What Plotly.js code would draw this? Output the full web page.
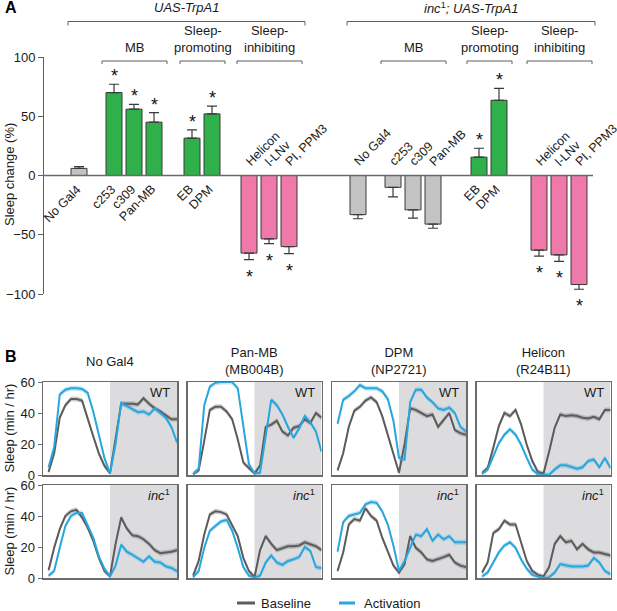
<!DOCTYPE html>
<html><head><meta charset="utf-8">
<script src="https://cdn.plot.ly/plotly-3.0.1.min.js"></script>
<style>html,body{margin:0;padding:0;background:#fff;}#chart{width:617px;height:611px;}</style>
</head><body><div id="chart"></div>
<script>
// ===================== DATA =====================
// Panel A: sleep change (%) on TrpA1 activation
const setTitles = ['<i>UAS-TrpA1</i>', '<i>inc</i><sup>1</sup><i>; UAS-TrpA1</i>'];
const barLabels = ['No Gal4', 'c253', 'c309', 'Pan-MB', 'EB', 'DPM', 'Helicon', 'l-LNv', 'PI, PPM3'];
const subgroupNames = ['MB', 'Sleep-<br>promoting', 'Sleep-<br>inhibiting'];
const subgroupOf = [-1, 0, 0, 0, 1, 1, 2, 2, 2];
const changeWT = [6, 70, 56, 45, 31.5, 52, -65.5, -53.5, -60];
const semWT = [1.5, 7, 4, 8, 7, 6.5, 5.5, 4, 6];
const sigWT = [false, true, true, true, true, true, true, true, true];
const changeInc = [-33, -10, -29, -41, 15.5, 63.5, -63, -67, -92];
const semInc = [3.5, 8, 7, 3.5, 7.5, 10, 5, 5.5, 4];
const sigInc = [false, false, false, false, true, true, true, true, true];

// Panel B: sleep profiles (min / hr), hourly
const hours = [1, 2, 3, 4, 5, 6, 7, 8, 9, 10, 11, 12, 13, 14, 15, 16, 17, 18, 19, 20, 21, 22, 23, 24];
const colTitles = ['No Gal4', 'Pan-MB<br>(MB004B)', 'DPM<br>(NP2721)', 'Helicon<br>(R24B11)'];
const rowTags = ['WT', '<i>inc</i><sup>1</sup>'];
const baseWT_noGal4 = [2, 14, 37, 45, 49, 49, 48, 36, 25, 14, 6, 1, 25, 46, 46, 46, 45.5, 49.5, 46, 43, 41, 38.5, 36, 36];
const actWT_noGal4 = [5, 18, 52, 55, 56, 56, 55.5, 53, 41, 26, 11, 1, 20, 46.5, 44.5, 42, 40.5, 41, 39, 43, 40, 37, 31, 21];
const baseWT_panMB = [0.5, 3, 22, 42, 44, 44, 41, 36, 23, 8, 4.5, 1, 6, 31, 32.5, 35, 28, 25.5, 30.5, 31.5, 36, 33.5, 40, 37];
const actWT_panMB = [0.5, 4, 45, 57, 59.5, 60, 60, 60, 56, 33, 7, 1, 1.5, 25, 48.5, 45, 39, 31, 24, 30, 38, 34, 28, 15];
const baseWT_DPM = [3, 14, 31, 41.5, 44, 48, 50, 47, 38, 26, 14, 1.5, 20, 43, 42, 40, 38, 39, 31, 35.5, 40, 29, 27, 26];
const actWT_DPM = [33, 48.5, 51, 54, 58, 56, 56, 56, 54, 49, 35, 11, 10, 47, 55, 55, 50, 47, 43, 42, 43.5, 40, 31, 28];
const baseWT_helicon = [1.3, 4.5, 17.5, 31.5, 40, 38, 42, 32.5, 19.5, 9, 2, 1, 15, 30.5, 39, 38, 38.5, 38, 37, 36.5, 37.5, 36, 42, 42];
const actWT_helicon = [0.6, 3.5, 12, 20.5, 26, 29.5, 26, 19.5, 11, 3.5, 0.3, 0, 0, 3.5, 6.3, 6.3, 5, 4, 5, 9, 10, 5, 11, 4.5];
const baseInc_noGal4 = [5, 19.5, 31.5, 40, 43, 44, 39, 32.5, 24, 13, 4.5, 1, 22, 39, 32, 27.5, 27, 25, 22, 18, 16, 16.5, 17, 18];
const actInc_noGal4 = [1.5, 4.5, 19.5, 33.5, 40, 42, 42, 34.5, 26, 14, 6, 1, 8, 21.5, 17, 15, 13, 10.5, 14, 10.5, 10, 7.5, 6.5, 4.5];
const baseInc_panMB = [1.5, 11, 28, 41, 43, 42.5, 41, 33.5, 27, 13, 4.5, 0.5, 18, 27, 22, 18, 19.5, 20.5, 20.5, 21, 23, 22, 20.5, 18];
const actInc_panMB = [0.4, 4.5, 19.5, 30.5, 33.5, 36.5, 37.5, 30.5, 19.5, 7, 1.5, 0.4, 1.5, 10, 14.5, 10, 8.5, 11, 12, 13.5, 20, 17.5, 7, 6.5];
const baseInc_DPM = [4.5, 16.5, 34.5, 38, 37, 45, 40, 37, 26, 16.5, 8, 3.5, 9, 27, 19.5, 16.5, 12, 11, 12, 13.5, 15, 10, 8, 7];
const actInc_DPM = [17, 36, 40, 41, 42, 47.5, 49, 48.5, 43, 34.5, 21, 4.5, 11, 19.5, 28, 27, 31.5, 24, 28, 25, 27, 23, 23, 23];
const baseInc_helicon = [3.5, 10, 29, 31.5, 37, 34.5, 34.5, 23, 11, 4.5, 2, 1, 7, 22, 27, 23, 24, 18.5, 22, 18.5, 16.5, 16.5, 15.5, 14.5];
const actInc_helicon = [1, 3.5, 10, 16.5, 21, 23, 19.5, 12, 6, 2, 1, 0.2, 0.4, 3.5, 9, 8, 7.5, 7.5, 7.5, 8, 13, 10, 4.5, 2.5];
const semBase = 1.6, semAct = 1.6;
const legendNames = ['Baseline', 'Activation'];

// ===================== LAYOUT / STYLE =====================
const W = 617, H = 611;
const px = v => v / W, py = v => 1 - v / H;
const FONT = 'Liberation Sans, Arial, Helvetica, sans-serif';
const TXT = '#1a1a1a';
const C_GREEN = '#2fb04b', C_PINK = '#ef79a9', C_GRAY = '#c3c3c3', C_EDGE = '#3a3a3a';
const C_AX = '#5e5e5e';
const C_BASE = '#5c5c5c', C_ACT = '#28a6de';
const BAND_BASE = 'rgba(92,92,92,0.30)', BAND_ACT = 'rgba(40,166,222,0.30)';

const SLOT = 20, BAR_W = 16;
const startPx = [79, 358];
const subGapPx = [[35, 38, 37], [35, 46, 40]];
function barCenters(set) {
  const out = []; let x = startPx[set]; let prev = null;
  subgroupOf.forEach((g, i) => {
    if (i > 0) x += (g !== prev) ? subGapPx[set][g] : SLOT;
    out.push(x); prev = g;
  });
  return out;
}

const traces = [], shapes = [], annotations = [];
const sets = [
  {v: changeWT, e: semWT, s: sigWT},
  {v: changeInc, e: semInc, s: sigInc}
];

sets.forEach((st, si) => {
  const xc = barCenters(si);
  const colors = st.v.map((v, i) => !st.s[i] ? C_GRAY : (v > 0 ? C_GREEN : C_PINK));
  traces.push({
    type: 'bar', x: xc, y: st.v, width: BAR_W, xaxis: 'x', yaxis: 'y',
    marker: {color: colors, line: {color: C_EDGE, width: 1}},
    error_y: {type: 'data', symmetric: false,
      array: st.v.map((v, i) => v > 0 ? st.e[i] : 0),
      arrayminus: st.v.map((v, i) => v < 0 ? st.e[i] : 0),
      color: C_EDGE, thickness: 1.2, width: 5},
    hoverinfo: 'skip', showlegend: false
  });
  st.v.forEach((v, i) => {
    if (v > 0) {
      annotations.push({x: xc[i], y: 0, xref: 'x', yref: 'y', text: barLabels[i], showarrow: false,
        textangle: -45, xanchor: 'right', yanchor: 'top', xshift: 7, yshift: -4,
        font: {family: FONT, size: 12.5, color: TXT}});
    } else {
      annotations.push({x: xc[i], y: 0, xref: 'x', yref: 'y', text: barLabels[i], showarrow: false,
        textangle: -45, xanchor: 'left', yanchor: 'bottom', xshift: -9, yshift: 4,
        font: {family: FONT, size: 12.5, color: TXT}});
    }
    if (st.s[i]) {
      const pos = v > 0;
      annotations.push({x: xc[i], y: v + (pos ? st.e[i] : -st.e[i]), xref: 'x', yref: 'y', text: '*',
        showarrow: false, xanchor: 'center', yanchor: pos ? 'bottom' : 'top', yshift: pos ? -4 : -5,
        font: {family: FONT, size: 18, color: '#111'}});
    }
  });
  const L = xc[0] - BAR_W / 2 - 3, R = xc[xc.length - 1] + BAR_W / 2 + 8;
  const yb = 21.5, tick = 4;
  shapes.push({type: 'path', xref: 'x', yref: 'paper',
    path: `M${L},${py(yb + tick)} L${L},${py(yb)} L${R},${py(yb)} L${R},${py(yb + tick)}`,
    line: {color: C_AX, width: 1}});
  annotations.push({x: (L + R) / 2, y: py(8), xref: 'x', yref: 'paper', text: setTitles[si], showarrow: false,
    xanchor: 'center', yanchor: 'middle', font: {family: FONT, size: 13, color: TXT}});
  subgroupNames.forEach((nm, g) => {
    const idx = subgroupOf.map((gg, i) => gg === g ? i : -1).filter(i => i >= 0);
    const l = xc[idx[0]] - BAR_W / 2 - 4, r = xc[idx[idx.length - 1]] + BAR_W / 2 + 5;
    const y0 = 61, tk = 3;
    shapes.push({type: 'path', xref: 'x', yref: 'paper',
      path: `M${l},${py(y0 + tk)} L${l},${py(y0)} L${r},${py(y0)} L${r},${py(y0 + tk)}`,
      line: {color: C_AX, width: 1}});
    annotations.push({x: (l + r) / 2, y: py(57), xref: 'x', yref: 'paper', text: nm, showarrow: false,
      xanchor: 'center', yanchor: 'bottom', font: {family: FONT, size: 13, color: TXT}});
  });
});

shapes.push({type: 'line', xref: 'x', yref: 'y', x0: 43, x1: 593, y0: 0, y1: 0,
  line: {color: '#6a6a6a', width: 1.5}});

const layout = {
  width: W, height: H, margin: {l: 0, r: 0, t: 0, b: 0},
  paper_bgcolor: '#fff', plot_bgcolor: 'rgba(0,0,0,0)', showlegend: false,
  font: {family: FONT, color: TXT},
  bargap: 0,
  xaxis: {domain: [0, 1], range: [0, W], visible: false, fixedrange: true},
  yaxis: {domain: [py(294), py(57)], range: [-100, 100], anchor: 'free', position: px(43),
    showline: true, linecolor: C_AX, linewidth: 1.2, ticks: 'outside', ticklen: 5, tickcolor: C_AX,
    tickvals: [-100, -50, 0, 50, 100], showgrid: false, zeroline: false,
    tickfont: {family: FONT, size: 13, color: TXT}}
};

const profiles = [
  [[baseWT_noGal4, actWT_noGal4], [baseWT_panMB, actWT_panMB], [baseWT_DPM, actWT_DPM], [baseWT_helicon, actWT_helicon]],
  [[baseInc_noGal4, actInc_noGal4], [baseInc_panMB, actInc_panMB], [baseInc_DPM, actInc_DPM], [baseInc_helicon, actInc_helicon]]
];
const colLeft = [43, 187.5, 332, 476.5], boxW = 134;
const rowTop = [382, 485], boxH = 93;

profiles.forEach((row, r) => {
  row.forEach((pair, c) => {
    const k = 2 + r * 4 + c;
    const xa = 'x' + k, ya = 'y' + k;
    layout['xaxis' + k] = {domain: [px(colLeft[c]), px(colLeft[c] + boxW)], range: [0, 24], anchor: ya,
      showline: true, mirror: true, linecolor: '#6b6b6b', linewidth: 1.5, showticklabels: false, ticks: '',
      showgrid: false, zeroline: false, fixedrange: true};
    layout['yaxis' + k] = {domain: [py(rowTop[r] + boxH), py(rowTop[r])], range: [0, 60], anchor: xa,
      showline: true, mirror: true, linecolor: '#6b6b6b', linewidth: 1.5, showgrid: false, zeroline: false,
      tickvals: [0, 20, 40, 60], ticks: c === 0 ? 'outside' : '', ticklen: 4, tickcolor: '#6b6b6b',
      showticklabels: c === 0, tickfont: {family: FONT, size: 13, color: TXT}, fixedrange: true};
    shapes.push({type: 'rect', xref: xa, yref: ya + ' domain', x0: 12, x1: 24, y0: 0, y1: 1,
      fillcolor: '#dcdcde', line: {width: 0}, layer: 'below'});
    const specs = [[pair[0], semBase, BAND_BASE, C_BASE], [pair[1], semAct, BAND_ACT, C_ACT]];
    specs.forEach(([vals, sem, band, col]) => {
      traces.push({type: 'scatter', mode: 'lines', x: hours, y: vals.map(v => Math.min(60, v + sem)),
        xaxis: xa, yaxis: ya, line: {width: 0}, hoverinfo: 'skip', showlegend: false});
      traces.push({type: 'scatter', mode: 'lines', x: hours, y: vals.map(v => Math.max(0, v - sem)),
        xaxis: xa, yaxis: ya, line: {width: 0}, fill: 'tonexty', fillcolor: band, hoverinfo: 'skip', showlegend: false});
    });
    specs.forEach(([vals, sem, band, col]) => {
      traces.push({type: 'scatter', mode: 'lines', x: hours, y: vals, xaxis: xa, yaxis: ya,
        line: {color: col, width: 2}, hoverinfo: 'skip', showlegend: false});
    });
    annotations.push({x: px(colLeft[c] + boxW - 5), y: py(rowTop[r] + 10), xref: 'paper', yref: 'paper',
      text: rowTags[r], showarrow: false, xanchor: 'right', yanchor: 'middle',
      font: {family: FONT, size: 13, color: TXT}});
    if (r === 0) {
      annotations.push({x: px(colLeft[c] + boxW / 2), y: py(361), xref: 'paper', yref: 'paper',
        text: colTitles[c], showarrow: false, xanchor: 'center', yanchor: 'middle',
        font: {family: FONT, size: 13, color: TXT}});
    }
  });
  annotations.push({x: px(9), y: py(rowTop[r] + boxH / 2), xref: 'paper', yref: 'paper',
    text: 'Sleep (min / hr)', textangle: -90, showarrow: false, xanchor: 'center', yanchor: 'middle',
    font: {family: FONT, size: 13, color: TXT}});
});

annotations.push({x: px(9), y: py(175), xref: 'paper', yref: 'paper', text: 'Sleep change (%)', textangle: -90,
  showarrow: false, xanchor: 'center', yanchor: 'middle', font: {family: FONT, size: 13, color: TXT}});
annotations.push({x: px(3), y: py(8), xref: 'paper', yref: 'paper', text: '<b>A</b>', showarrow: false,
  xanchor: 'left', yanchor: 'middle', font: {family: FONT, size: 16, color: '#000'}});
annotations.push({x: px(3), y: py(356), xref: 'paper', yref: 'paper', text: '<b>B</b>', showarrow: false,
  xanchor: 'left', yanchor: 'middle', font: {family: FONT, size: 16, color: '#000'}});

[[237, 255, C_BASE, 259], [339, 355, C_ACT, 362]].forEach(([a, b, col, tx], i) => {
  shapes.push({type: 'line', xref: 'paper', yref: 'paper', x0: px(a), x1: px(b), y0: py(603), y1: py(603),
    line: {color: col, width: 3}});
  annotations.push({x: px(tx), y: py(603), xref: 'paper', yref: 'paper', text: legendNames[i], showarrow: false,
    xanchor: 'left', yanchor: 'middle', font: {family: FONT, size: 13, color: TXT}});
});

layout.shapes = shapes;
layout.annotations = annotations;
Plotly.newPlot('chart', traces, layout, {staticPlot: true, displayModeBar: false});
</script></body></html>
